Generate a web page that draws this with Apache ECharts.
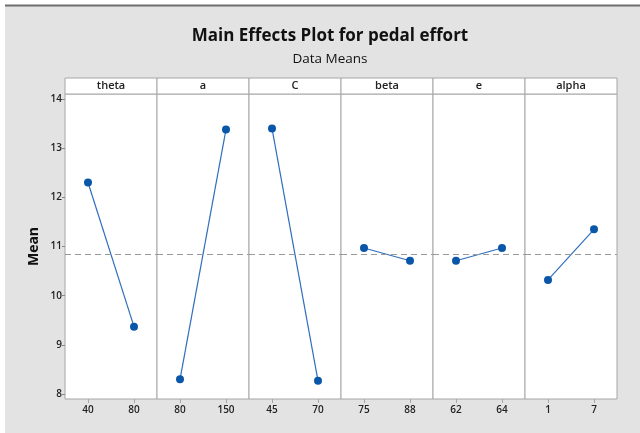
<!DOCTYPE html>
<html>
<head>
<meta charset="utf-8">
<script src="https://cdn.jsdelivr.net/npm/echarts@6/dist/echarts.min.js"></script>
<style>
  html, body { margin: 0; padding: 0; background: #fff; }
  #chart { width: 640px; height: 433px; }
</style>
</head>
<body>
<div id="chart"></div>
<script>
  // factors and their two levels, with the mean response at each level
  const factors = ['theta', 'a', 'C', 'beta', 'e', 'alpha'];
  const levels = [['40', '80'], ['80', '150'], ['45', '70'], ['75', '88'], ['62', '64'], ['1', '7']];
  const means = [[12.30, 9.37], [8.30, 13.38], [13.40, 8.27], [10.97, 10.71], [10.71, 10.97], [10.32, 11.35]];
  const grandMean = 10.835;
  const yTicks = [8, 9, 10, 11, 12, 13, 14];

  const plotLeft = 65, panelW = 92, headTop = 78, headH = 16, plotTop = 94, plotH = 305;
  const font = '"Open Sans", "Noto Sans", sans-serif';
  const blue = '#0a56a8';

  const chart = echarts.init(document.getElementById('chart'));

  const grids = [], xAxes = [], yAxes = [], series = [], graphics = [];

  // gray frame behind everything, with the dark rule along the top
  graphics.push({
    type: 'rect', z: -10, silent: true,
    shape: { x: 5, y: 5, width: 640, height: 433 },
    style: { fill: '#e3e3e3' }
  });
  graphics.push({
    type: 'line', z: -9, silent: true,
    shape: { x1: 5, y1: 5.5, x2: 640, y2: 5.5 },
    style: { stroke: '#6e6e6e', lineWidth: 2 }
  });

  factors.forEach(function (f, i) {
    const left = plotLeft + i * panelW;
    grids.push({
      left: left, top: plotTop, width: panelW, height: plotH,
      show: true, backgroundColor: '#fff', borderColor: '#a6a6a6', borderWidth: 1
    });
    xAxes.push({
      type: 'category', gridIndex: i, data: levels[i], boundaryGap: true,
      axisLine: { show: false },
      axisTick: { show: true, alignWithLabel: true, length: 4, lineStyle: { color: '#a6a6a6' } },
      axisLabel: { margin: 6, fontSize: 10, fontWeight: 600, color: '#222', fontFamily: font },
      splitLine: { show: false }
    });
    yAxes.push({
      type: 'value', gridIndex: i, min: 7.9, max: 14.1,
      show: i === 0,
      name: i === 0 ? 'Mean' : '', nameLocation: 'middle', nameGap: 24,
      nameTextStyle: { fontSize: 14, fontWeight: 'bold', color: '#111', fontFamily: font },
      axisLine: { show: false },
      axisTick: { show: true, length: 3, customValues: yTicks, lineStyle: { color: '#888' } },
      axisLabel: { margin: 3, fontSize: 10, fontWeight: 600, color: '#222', fontFamily: font, customValues: yTicks },
      splitLine: { show: false }
    });
    series.push({
      type: 'line', xAxisIndex: i, yAxisIndex: i,
      data: means[i],
      symbol: 'circle', symbolSize: 8,
      itemStyle: { color: blue },
      lineStyle: { color: '#2f6fbd', width: 1.2 },
      markLine: {
        silent: true, symbol: 'none', label: { show: false },
        lineStyle: { color: '#9a9a9a', type: [6, 4], width: 1 },
        data: [{ yAxis: grandMean }]
      },
      z: 3
    });
    graphics.push({
      type: 'rect', silent: true,
      shape: { x: left, y: headTop, width: panelW, height: headH },
      style: { fill: '#fff', stroke: '#a6a6a6', lineWidth: 1 }
    });
    graphics.push({
      type: 'text', silent: true,
      x: left + panelW / 2, y: headTop + headH / 2,
      style: {
        text: f, align: 'center', verticalAlign: 'middle',
        fontSize: 11, fontWeight: 600, fontFamily: font, fill: '#222'
      }
    });
  });

  chart.setOption({
    animation: false,
    title: [{
      text: 'Main Effects Plot for pedal effort',
      subtext: 'Data Means',
      left: 325, top: 23, textAlign: 'center', itemGap: 7,
      textStyle: { fontSize: 17, fontWeight: 'bold', color: '#111', fontFamily: font },
      subtextStyle: { fontSize: 13.5, color: '#111', fontFamily: font }
    }],
    graphic: graphics,
    grid: grids,
    xAxis: xAxes,
    yAxis: yAxes,
    series: series
  });
</script>
</body>
</html>
